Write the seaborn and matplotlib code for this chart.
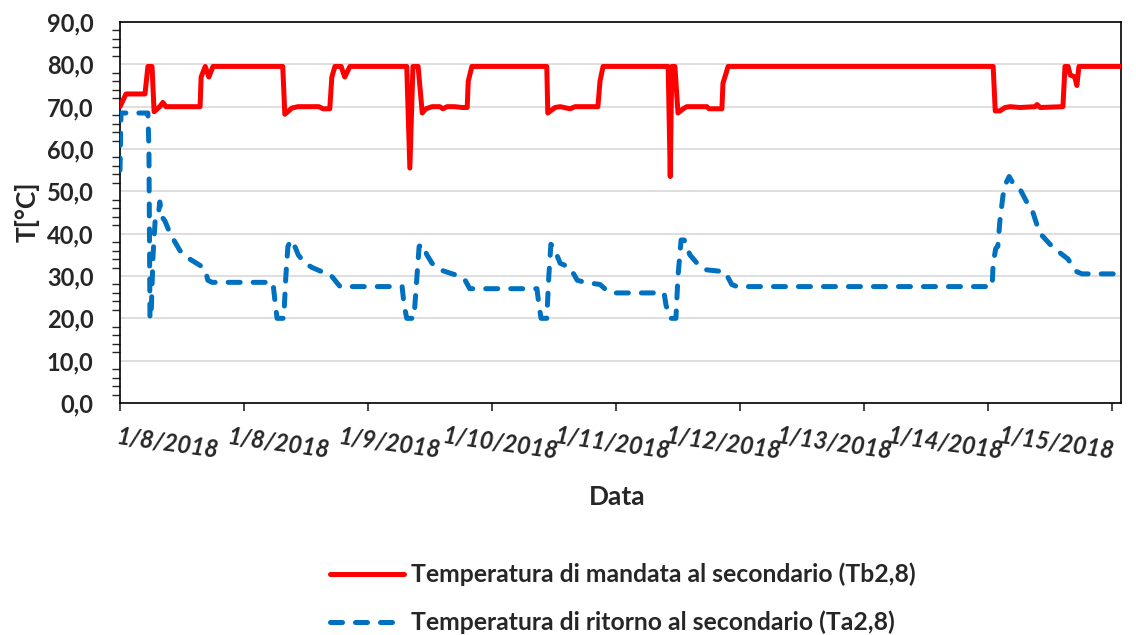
import numpy as np
import pandas as pd
import matplotlib
matplotlib.use("Agg")
import matplotlib.pyplot as plt
import seaborn as sns
from matplotlib.ticker import MultipleLocator

# ---------------- data (hours from the first tick) ----------------
hours_mandata = [0, 1.16, 4.84, 5.4, 6.2, 6.6, 7.7, 8.3, 8.9, 15.5, 15.7, 16.5, 17.2, 18.0,
                 31.5, 31.9, 33.3, 34.5, 38.5, 39.3, 40.6, 41.0, 41.6, 42.8, 43.5, 44.5,
                 55.5, 56.1, 56.7, 57.7, 58.5, 59.2, 60.4, 61.9, 62.5, 63.3, 64.8, 66.2, 67.2,
                 67.4, 68.1, 82.6, 82.8, 84.2, 85.2, 87.1, 88.1, 91.0, 92.5, 92.9, 93.5,
                 106.1, 106.5, 106.8, 107.4, 108.0, 109.0, 109.7, 113.6, 114.0, 116.5, 116.7,
                 117.7, 169.0, 169.4, 170.3, 171.3, 172.3, 174.2, 177.1, 177.5, 178.1, 182.5,
                 182.9, 183.5, 183.9, 184.8, 185.2, 185.6, 193.7]
temp_mandata = [70, 73, 73, 79.5, 79.5, 68.8, 70, 71, 70, 70, 77, 79.5, 77, 79.5,
                79.5, 68.2, 69.7, 70, 70, 69.5, 69.5, 77, 79.5, 79.5, 77, 79.5,
                79.5, 55.5, 79.5, 79.5, 68.5, 69.5, 70, 70, 69.5, 70, 70, 69.8, 69.8,
                76, 79.5, 79.5, 68.5, 69.8, 70, 69.5, 70, 70, 70, 76, 79.5,
                79.5, 53.5, 79.5, 79.5, 68.5, 69.5, 70, 70, 69.5, 69.5, 75.5,
                79.5, 79.5, 69, 69, 69.8, 70, 69.8, 70, 70.5, 69.8, 70,
                79.5, 79.5, 77.5, 77, 75, 79.5, 79.5]

hours_ritorno = [0, 0.2, 5.4, 5.6, 5.8, 6.0, 6.4, 6.8, 7.4, 7.7, 8.1, 8.7, 9.7, 11.6, 13.5,
                 15.5, 16.5, 17.0, 17.8, 29.6, 30.0, 30.4, 31.7, 32.1, 32.5, 33.1, 33.5,
                 34.5, 35.8, 37.2, 39.1, 40.6, 41.6, 42.6, 54.6, 55.0, 55.5, 56.9, 57.3,
                 57.9, 58.5, 59.4, 60.4, 61.9, 64.3, 65.8, 66.8, 67.7, 80.7, 81.1, 81.5,
                 82.6, 83.0, 83.4, 84.2, 85.2, 87.1, 88.5, 90.0, 92.9, 94.3, 95.2, 105.3,
                 105.7, 106.5, 107.6, 108.0, 108.6, 109.2, 110.3, 111.7, 113.2, 117.1,
                 118.4, 119.4, 168.8, 169.0, 169.5, 169.9, 170.3, 170.9, 171.5, 172.1,
                 172.8, 174.2, 175.7, 176.7, 177.5, 178.5, 180.0, 181.9, 183.5, 184.5,
                 185.2, 186.2, 193.7]
temp_ritorno = [55, 68.5, 68.5, 60, 20, 20, 35, 43, 44, 47.5, 44, 43, 40, 36, 34,
                32.5, 31.5, 29, 28.5, 28.5, 24, 20, 20, 30, 37, 38.5, 38,
                35, 33, 32, 31, 30.5, 29, 27.5, 27.5, 23, 20, 20, 27,
                37, 37.5, 35, 33, 31.5, 30.5, 30, 29, 27, 27, 23, 20,
                20, 30, 37.5, 36, 33, 32, 29, 28.5, 28, 26.5, 26, 26,
                23, 20, 20, 30, 38.5, 38.5, 35, 33, 31.5, 31,
                28, 27.5, 27.5, 33, 36.5, 37, 43, 49, 52, 53.5,
                52, 50.5, 47, 45, 42, 39.5, 37.5, 35.5, 34, 32,
                31, 30.5, 30.5]

tick_labels = ["1/8/2018", "1/8/2018", "1/9/2018", "1/10/2018", "1/11/2018",
               "1/12/2018", "1/13/2018", "1/14/2018", "1/15/2018"]
label_mandata = "Temperatura di mandata al secondario (Tb2,8)"
label_ritorno = "Temperatura di ritorno al secondario (Ta2,8)"

# ---------------- plot ----------------
sns.set_style("white")
plt.rcParams['font.family'] = ['Lato', 'DejaVu Sans']

df_m = pd.DataFrame({"hours": hours_mandata, "T": temp_mandata})
df_r = pd.DataFrame({"hours": hours_ritorno, "T": temp_ritorno})

fig = plt.figure(figsize=(11.36, 6.35), dpi=100)
ax = fig.add_axes([120 / 1136, 1 - 403 / 635, (1121 - 120) / 1136, (403 - 22) / 635])

sns.lineplot(data=df_m, x="hours", y="T", ax=ax, color="#FF0000", linewidth=3.6,
             label=label_mandata, solid_capstyle="round", solid_joinstyle="round",
             zorder=3)
sns.lineplot(data=df_r, x="hours", y="T", ax=ax, color="#0070C0", linewidth=3.6,
             label=label_ritorno, dash_capstyle="round", zorder=4)
ax.lines[1].set_dashes([2.4, 2.6])

ax.set_xlim(0, (1121 - 120) / 124 * 24)
ax.set_ylim(0, 90)

# major x ticks: one per day; labels are spread evenly (as Excel does) via minor ticks
ax.set_xticks([24 * i for i in range(len(tick_labels))])
ax.set_xticklabels([])
label_pos = np.linspace(9.5, 181.7, len(tick_labels))
ax.set_xticks(label_pos, minor=True)
ax.set_xticklabels(tick_labels, minor=True, rotation=-8, ha="center", va="top",
                   rotation_mode="anchor", fontsize=17, fontweight="bold",
                   fontstyle="italic")
ax.tick_params(axis="x", which="minor", length=0, pad=21)
ax.tick_params(axis="x", which="major", direction="out", length=6, width=1.2,
               bottom=True)

ax.yaxis.set_major_locator(MultipleLocator(10))
ax.yaxis.set_minor_locator(MultipleLocator(2))
ax.set_yticklabels([f"{v:.1f}".replace(".", ",") for v in ax.get_yticks()],
                   fontsize=17, fontweight="bold")
ax.tick_params(axis="y", which="major", direction="out", length=7, width=1.2, pad=12)
ax.tick_params(axis="y", which="minor", direction="out", length=6, width=1.0, left=True)
ax.grid(axis="y", color="#D9D9D9", linewidth=1.2)
ax.set_axisbelow(True)
for s in ax.spines.values():
    s.set_color("black")
    s.set_linewidth(1.2)

ax.set_xlabel("Data", fontsize=19, fontweight="bold")
ax.xaxis.set_label_coords((617 - 120) / 1001, (403 - 485) / 381)
ax.set_ylabel("T[°C]", fontsize=19, fontweight="bold")
ax.yaxis.set_label_coords((40 - 120) / 1001, (403 - 212) / 381)

leg = ax.legend(loc="upper left", bbox_to_anchor=(320 / 1136, 1 - 553 / 635),
                bbox_transform=fig.transFigure, frameon=False,
                prop={"size": 17.8, "weight": "bold"}, handlelength=3.0,
                labelspacing=0.98, handletextpad=0.3, borderaxespad=0)
for line in leg.get_lines():
    line.set_linewidth(3.6)

fig.savefig("out.png", dpi=100)
